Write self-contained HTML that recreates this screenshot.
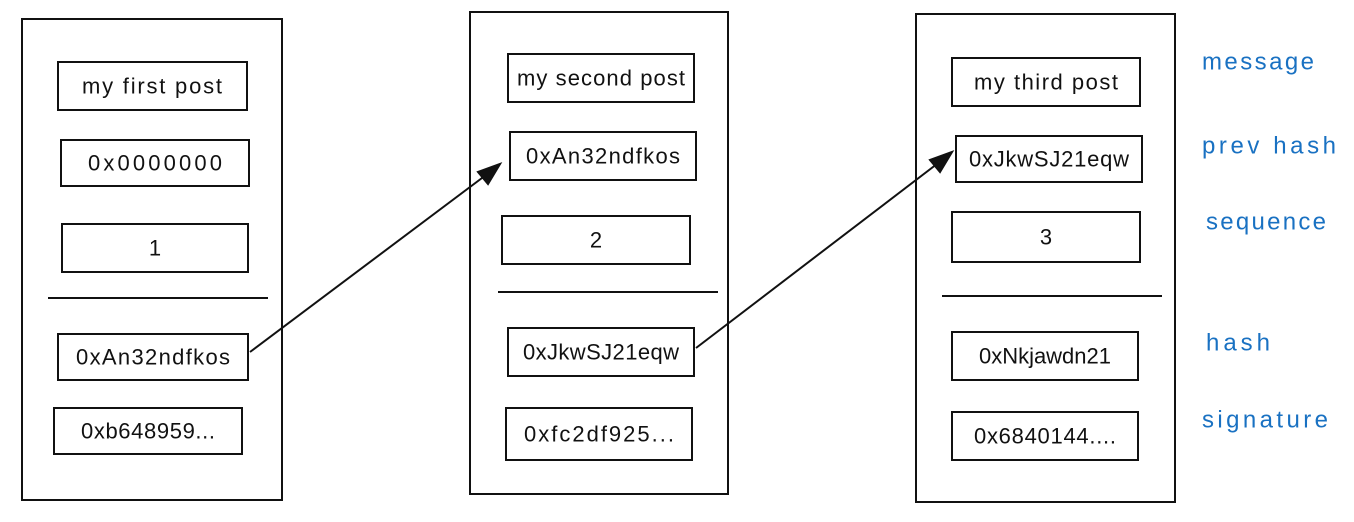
<!DOCTYPE html>
<html><head><meta charset="utf-8"><style>
html,body{margin:0;padding:0;background:#fff;}
svg{display:block}
text{font-family:"Liberation Sans",sans-serif;font-size:22px;fill:#111;text-anchor:middle;dominant-baseline:central}
.l{fill:#1971c2;text-anchor:start;font-size:24px}
rect,line{stroke:#111;fill:none;stroke-width:2}
.ah{fill:#111;stroke:#111;stroke-width:2}
</style></head><body>
<svg width="1354" height="522" viewBox="0 0 1354 522">
<rect x="22" y="19" width="260" height="481"/>
<rect x="470" y="12" width="258" height="482"/>
<rect x="916" y="14" width="259" height="488"/>

<rect x="58" y="62" width="189" height="48"/><text x="152" y="86" textLength="140">my first post</text>
<rect x="61" y="140" width="188" height="46"/><text x="155" y="163" textLength="134">0x0000000</text>
<rect x="62" y="224" width="186" height="48"/><text x="155" y="248">1</text>
<line x1="48" y1="298" x2="268" y2="298"/>
<rect x="58" y="334" width="190" height="46"/><text x="153" y="357" textLength="154">0xAn32ndfkos</text>
<rect x="54" y="408" width="188" height="46"/><text x="148" y="431" textLength="134">0xb648959...</text>

<rect x="508" y="54" width="186" height="48"/><text x="601" y="78" textLength="168">my second post</text>
<rect x="510" y="132" width="186" height="48"/><text x="603" y="156" textLength="154">0xAn32ndfkos</text>
<rect x="502" y="216" width="188" height="48"/><text x="596" y="240">2</text>
<line x1="498" y1="292" x2="718" y2="292"/>
<rect x="508" y="328" width="186" height="48"/><text x="601" y="352" textLength="156">0xJkwSJ21eqw</text>
<rect x="506" y="408" width="186" height="52"/><text x="599" y="434" textLength="150">0xfc2df925...</text>

<rect x="952" y="58" width="188" height="48"/><text x="1046" y="82" textLength="144">my third post</text>
<rect x="956" y="136" width="186" height="46"/><text x="1049" y="159" textLength="160">0xJkwSJ21eqw</text>
<rect x="952" y="212" width="188" height="50"/><text x="1046" y="237">3</text>
<line x1="942" y1="296" x2="1162" y2="296"/>
<rect x="952" y="332" width="186" height="48"/><text x="1045" y="356" textLength="132">0xNkjawdn21</text>
<rect x="952" y="412" width="186" height="48"/><text x="1045" y="436" textLength="142">0x6840144....</text>

<line x1="250" y1="352" x2="498" y2="166"/>
<polygon class="ah" points="500,164 478,172 488,184"/>
<line x1="696" y1="348" x2="950" y2="154"/>
<polygon class="ah" points="952,152 930,160 940,172"/>

<text class="l" x="1202" y="62" textLength="112">message</text>
<text class="l" x="1202" y="146" textLength="134">prev hash</text>
<text class="l" x="1206" y="222" textLength="120">sequence</text>
<text class="l" x="1206" y="343" textLength="64">hash</text>
<text class="l" x="1202" y="420" textLength="126">signature</text>
</svg>
</body></html>
